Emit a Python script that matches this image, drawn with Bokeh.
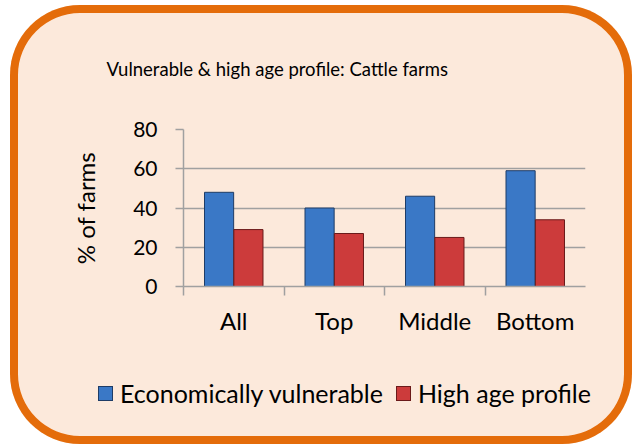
from bokeh.plotting import figure
from bokeh.models import ColumnDataSource, FixedTicker, Range1d, Div
from bokeh.layouts import column
from bokeh.transform import dodge
from bokeh.embed import file_html
from bokeh.resources import INLINE

categories = ["All", "Top", "Middle", "Bottom"]
vulnerable = [48, 40, 46, 59]
high_age = [29, 27, 25, 34]
y_ticks = [0, 20, 40, 60, 80]
title_text = "Vulnerable & high age profile: Cattle farms"
series_names = ["Economically vulnerable", "High age profile"]

FONT = "Lato"
GRAY = "#A0A0A0"
BLUE, BLUE_EDGE = "#3A78C6", "#1E3C66"
RED, RED_EDGE = "#CC3B3B", "#6A1A1A"

xpos = [i + 0.5 for i in range(len(categories))]
source = ColumnDataSource(dict(x=xpos, vuln=vulnerable, age=high_age))

p = figure(width=622, height=350, x_range=Range1d(0, len(categories)), y_range=Range1d(0, 80),
           output_backend="svg", toolbar_location=None,
           min_border_left=173, min_border_right=47, min_border_top=121, min_border_bottom=69,
           background_fill_alpha=0, border_fill_alpha=0, outline_line_color=None)

r1 = p.vbar(x=dodge("x", -0.146), top="vuln", width=0.29, source=source,
            fill_color=BLUE, line_color=BLUE_EDGE, line_width=1)
r2 = p.vbar(x=dodge("x", 0.146), top="age", width=0.29, source=source,
            fill_color=RED, line_color=RED_EDGE, line_width=1)

p.title.text = title_text
p.title.align = "left"
p.title.offset = -77
p.title.text_font = FONT
p.title.text_font_size = "18.5px"
p.title.text_font_style = "normal"
p.title.text_color = "#000000"
p.title.standoff = 100

p.xgrid.visible = False
p.ygrid.grid_line_color = GRAY
p.ygrid.grid_line_width = 1.5
p.ygrid.ticker = FixedTicker(ticks=y_ticks)

ya = p.yaxis[0]
ya.ticker = FixedTicker(ticks=y_ticks)
ya.axis_line_color = GRAY
ya.axis_line_width = 1.5
ya.major_tick_line_color = GRAY
ya.major_tick_line_width = 1.5
ya.major_tick_out = 8
ya.major_tick_in = 0
ya.minor_tick_out = 0
ya.minor_tick_in = 0
ya.major_label_text_font = FONT
ya.major_label_text_font_size = "21px"
ya.major_label_text_color = "#000000"
ya.major_label_standoff = 18
ya.axis_label = "% of farms"
ya.axis_label_text_font = FONT
ya.axis_label_text_font_size = "24px"
ya.axis_label_text_font_style = "normal"
ya.axis_label_text_color = "#000000"
ya.axis_label_standoff = 30

xa = p.xaxis[0]
xa.ticker = FixedTicker(ticks=xpos, minor_ticks=[0, 1, 2, 3])
xa.major_label_overrides = {x: c for x, c in zip(xpos, categories)}
xa.axis_line_color = GRAY
xa.axis_line_width = 1.5
xa.major_tick_out = 0
xa.major_tick_in = 0
xa.minor_tick_line_color = GRAY
xa.minor_tick_line_width = 1.5
xa.minor_tick_out = 9
xa.minor_tick_in = 0
xa.major_label_text_font = FONT
xa.major_label_text_font_size = "24px"
xa.major_label_text_color = "#000000"
xa.major_label_standoff = 10

# legend strip below the chart (colours shared with the bar renderers)
def swatch(fill, edge, left_gap):
    return (f'<span style="display:inline-block;width:15px;height:15px;background:{fill};'
            f'border:1px solid {edge};margin-left:{left_gap}px;margin-right:7px;"></span>')

legend_html = (
    f'<div style="margin:24px 0 0 88px;white-space:nowrap;font-family:{FONT};font-size:25px;'
    f'line-height:29px;color:#000;display:flex;align-items:center;">'
    + swatch(r1.glyph.fill_color, r1.glyph.line_color, 0) + f'<span>{series_names[0]}</span>'
    + swatch(r2.glyph.fill_color, r2.glyph.line_color, 13) + f'<span>{series_names[1]}</span>'
    + '</div>'
)
legend_div = Div(text=legend_html, width=622, height=89, margin=(0, 0, 0, 0))

layout = column(p, legend_div, spacing=0, margin=(5, 0, 0, 10),
                styles={"border-radius": "70px", "box-shadow": "inset 0 0 0 8px #E46C0A",
                        "background-color": "#FCE9DB"})

open("out.html", "w").write(file_html(layout, INLINE))
